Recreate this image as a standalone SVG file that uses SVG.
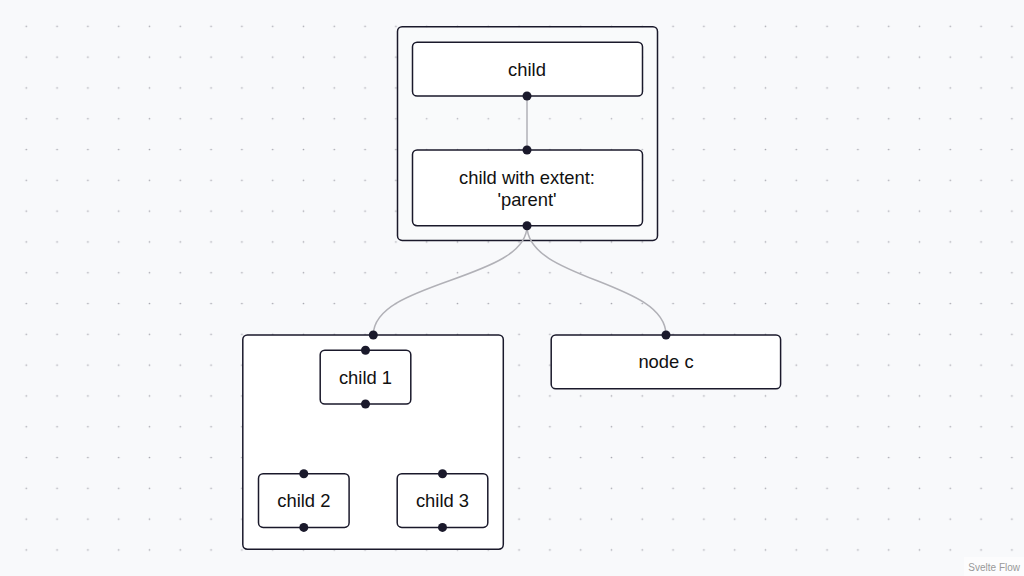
<svg xmlns="http://www.w3.org/2000/svg" width="1024" height="576" viewBox="0 0 1024 576">
  <defs>
    <pattern id="dots" patternUnits="userSpaceOnUse" x="10.9" y="10.9" width="30.8" height="30.8">
      <circle cx="15.4" cy="15.4" r="0.85" fill="#aaaab2"/>
    </pattern>
    <style>
      .node { fill: #ffffff; stroke: #1a192b; stroke-width: 1.5; }
      .group { fill: rgba(255,255,255,0.15); stroke: #1a192b; stroke-width: 1.5; }
      .label { font-family: "Liberation Sans", Arial, sans-serif; font-size: 18.4px; fill: #111111; text-anchor: middle; }
      .handle { fill: #1a192b; }
      .edge { fill: none; stroke: #b1b1b7; stroke-width: 1.5; }
      .attribution { font-family: "Liberation Sans", Arial, sans-serif; font-size: 10px; fill: #999999; }
    </style>
  </defs>

  <!-- canvas -->
  <rect width="1024" height="576" fill="#f8f9fb"/>
  <rect width="1024" height="576" fill="url(#dots)"/>

  <!-- parent group A -->
  <g id="group-a">
    <rect class="group" x="397.5" y="26.8" width="260" height="213.6" rx="4.6"/>
  </g>

  <!-- connectors -->
  <g id="edges">
    <path class="edge" d="M527,96 L527,150"/>
    <path class="edge" d="M527,225.7 C527,280.5 373.3,280.5 373.3,335"/>
    <path class="edge" d="M527,225.7 C527,280.5 666,280.5 666,335"/>
  </g>

  <g id="child">
    <rect class="node" x="412.5" y="42.2" width="230" height="53.8" rx="4.6"/>
    <text class="label" x="527" y="75.5">child</text>
    <circle class="handle" cx="527" cy="96" r="4.5"/>
  </g>

  <g id="child-extent">
    <rect class="node" x="412.5" y="150" width="230" height="75.7" rx="4.6"/>
    <text class="label" x="527" y="184.3">child with extent:</text>
    <text class="label" x="527" y="206.3">'parent'</text>
    <circle class="handle" cx="527" cy="150" r="4.5"/>
    <circle class="handle" cx="527" cy="225.7" r="4.5"/>
  </g>

  <!-- parent group B -->
  <g id="group-b">
    <rect class="node" x="242.8" y="335" width="260.5" height="214.2" rx="4.6"/>
    <circle class="handle" cx="373.3" cy="335" r="4.5"/>
  </g>

  <g id="child-1">
    <rect class="node" x="320.2" y="350.2" width="90.6" height="53.8" rx="4.6"/>
    <text class="label" x="365.5" y="383.6">child 1</text>
    <circle class="handle" cx="365.5" cy="350.2" r="4.5"/>
    <circle class="handle" cx="365.5" cy="404" r="4.5"/>
  </g>

  <g id="child-2">
    <rect class="node" x="258.5" y="473.8" width="90.6" height="53.6" rx="4.6"/>
    <text class="label" x="303.8" y="507.2">child 2</text>
    <circle class="handle" cx="303.8" cy="473.8" r="4.5"/>
    <circle class="handle" cx="303.8" cy="527.4" r="4.5"/>
  </g>

  <g id="child-3">
    <rect class="node" x="397.2" y="473.8" width="90.6" height="53.6" rx="4.6"/>
    <text class="label" x="442.5" y="507.2">child 3</text>
    <circle class="handle" cx="442.5" cy="473.8" r="4.5"/>
    <circle class="handle" cx="442.5" cy="527.4" r="4.5"/>
  </g>

  <g id="node-c">
    <rect class="node" x="551.2" y="335" width="229.4" height="53.8" rx="4.6"/>
    <text class="label" x="666" y="368.3">node c</text>
    <circle class="handle" cx="666" cy="335" r="4.5"/>
  </g>

  <!-- attribution -->
  <g id="attribution">
    <rect x="964" y="557" width="60" height="19" fill="rgba(255,255,255,0.5)"/>
    <text class="attribution" x="1020" y="571" text-anchor="end">Svelte Flow</text>
  </g>
</svg>
